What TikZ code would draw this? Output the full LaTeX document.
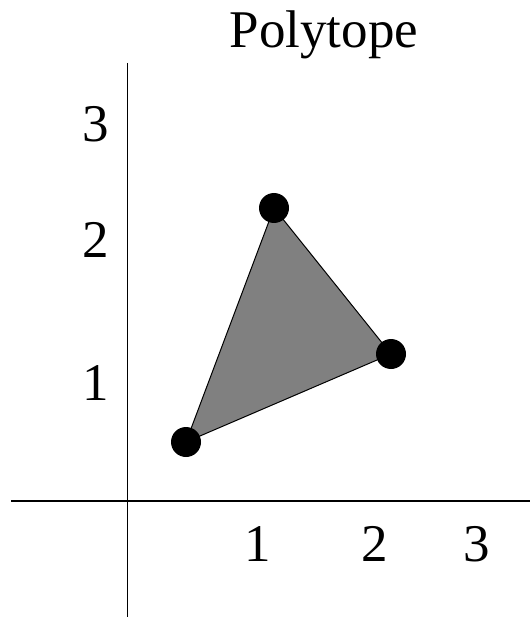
\documentclass[tikz,border=0pt]{standalone}
\usepackage{fontspec}
\setmainfont{Liberation Serif}
\begin{document}
\begin{tikzpicture}[x=1pt,y=-1pt,
  axis/.style={line width=1.5pt,black},
  lbl/.style={font=\fontsize{53}{55}\selectfont,inner sep=0pt},
  vtx/.style={circle,fill=black,minimum size=30pt,inner sep=0pt},
  poly/.style={fill={rgb,255:red,128;green,128;blue,128},draw=black,line width=1pt}]
\useasboundingbox (0,0) rectangle (530,617);
\coordinate (vtop) at (127.7,63);
\coordinate (vbot) at (127.7,617);
\coordinate (hl) at (11,501);
\coordinate (hr) at (530,501);
\draw[axis] (vtop) -- (vbot);
\draw[axis] (hl) -- (hr);
\coordinate (A) at (186,442);
\coordinate (B) at (391,354);
\coordinate (C) at (274,208);
\filldraw[poly] (A) -- (B) -- (C) -- cycle;
\node[vtx] (a) at (A) {};
\node[vtx] (b) at (B) {};
\node[vtx] (c) at (C) {};
\node[lbl] (title) at (324,35) {Polytope};
\node[lbl] (y3) at (96,124) {3};
\node[lbl] (y2) at (96,240) {2};
\node[lbl] (y1) at (96,383) {1};
\node[lbl] (x1) at (258,544) {1};
\node[lbl] (x2) at (375,544) {2};
\node[lbl] (x3) at (477,544) {3};
\end{tikzpicture}
\end{document}
